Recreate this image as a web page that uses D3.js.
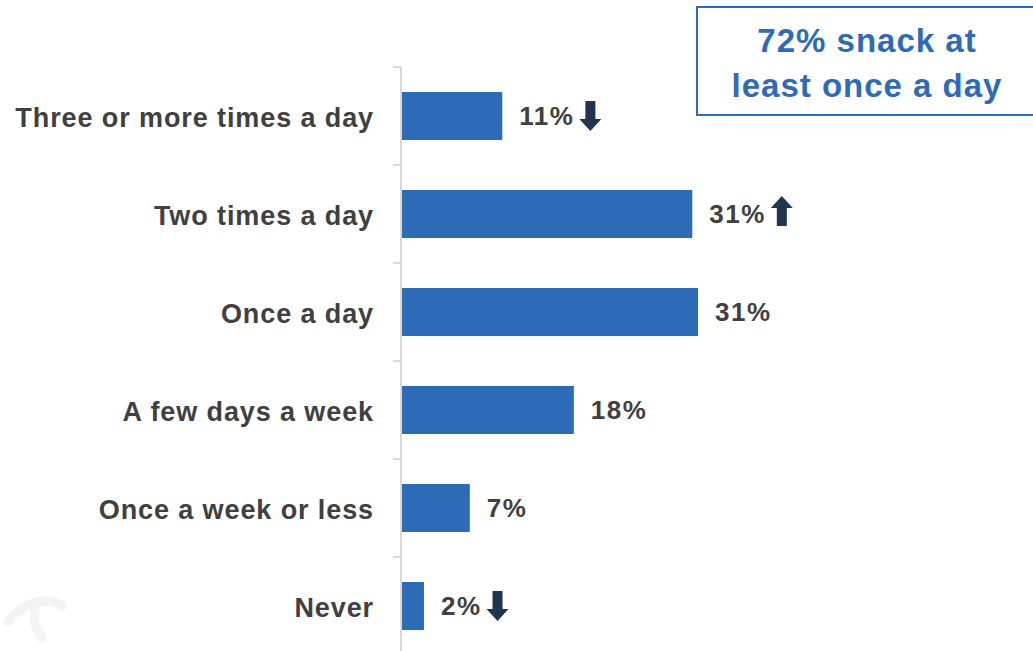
<!DOCTYPE html>
<html><head><meta charset="utf-8">
<script src="https://cdn.jsdelivr.net/npm/d3@7"></script>
<style>body{margin:0;background:#fff}svg{display:block}</style>
</head><body>
<svg id="c" width="1033" height="651"></svg>
<script>
const categories = ["Three or more times a day","Two times a day","Once a day","A few days a week","Once a week or less","Never"];
const values = [10.5, 30.4, 31.0, 18.0, 7.1, 2.3];
const valueLabels = ["11%","31%","31%","18%","7%","2%"];
const trends = ["down","up","","","","down"];
const calloutLines = ["72% snack at","least once a day"];

const svg = d3.select("#c");
const font = "'Liberation Sans', Arial, sans-serif";
const x = d3.scaleLinear().domain([0, 31]).range([402, 698]);
const y = d3.scaleBand().domain(categories).range([67, 655]).paddingInner(0.51).paddingOuter(0.255);

// watermark
svg.append("path").attr("d","M8,622 C22,602 48,596 62,606 M38,601 C32,614 34,628 42,638")
  .attr("fill","none").attr("stroke","#f3f3f3").attr("stroke-width",9).attr("stroke-linecap","round");

// axis
const band = y.step();
const ax = svg.append("g").attr("transform","translate(401,0)");
ax.append("line").attr("x1",0).attr("x2",0).attr("y1",67).attr("y2",651).attr("stroke","#d9d9d9").attr("stroke-width",2);
d3.range(categories.length + 1).forEach(i=>{
  const ty = 67 + i*band;
  ax.append("line").attr("x1",-8).attr("x2",0).attr("y1",ty).attr("y2",ty).attr("stroke","#d9d9d9").attr("stroke-width",2);
});

// bars
svg.selectAll("rect.bar").data(categories).join("rect").attr("class","bar")
  .attr("x", x(0)).attr("y", d=>y(d)).attr("height", y.bandwidth())
  .attr("width", (d,i)=>x(values[i])-x(0)).attr("fill","#2e6bb6");

// category labels
svg.selectAll("text.cat").data(categories).join("text").attr("class","cat")
  .attr("x",374).attr("y",d=>y(d)+y.bandwidth()/2).attr("dy","0.4em")
  .attr("text-anchor","end").attr("font-family",font).attr("font-weight","bold")
  .attr("font-size",27).attr("letter-spacing","0.9px").attr("fill","#404040").text(d=>d);

// value labels
const vl = svg.selectAll("text.val").data(categories).join("text").attr("class","val")
  .attr("x",(d,i)=>x(values[i])+17).attr("y",d=>y(d)+y.bandwidth()/2).attr("dy","0.36em")
  .attr("font-family",font).attr("font-weight","bold").attr("font-size",26).attr("letter-spacing","1.5px").attr("fill","#404040")
  .text((d,i)=>valueLabels[i]);

// trend arrows
vl.each(function(d,i){
  if(!trends[i]) return;
  const bb = this.getBBox();
  const ax0 = bb.x + bb.width + 5, cy = y(d)+y.bandwidth()/2;
  const w = 22, h = 30, sw = 10, head = 12;
  let pts;
  if(trends[i]==="down"){
    const t = cy - h/2, b = cy + h/2;
    pts = [[ax0+(w-sw)/2,t],[ax0+(w+sw)/2,t],[ax0+(w+sw)/2,b-head],[ax0+w,b-head],[ax0+w/2,b],[ax0,b-head],[ax0+(w-sw)/2,b-head]];
  } else {
    const t = cy - h/2 - 3, b = cy + h/2 - 3;
    pts = [[ax0+(w-sw)/2,b],[ax0+(w+sw)/2,b],[ax0+(w+sw)/2,t+head],[ax0+w,t+head],[ax0+w/2,t],[ax0,t+head],[ax0+(w-sw)/2,t+head]];
  }
  svg.append("polygon").attr("points",pts.map(p=>p.join(",")).join(" ")).attr("fill","#1f3550");
});

// callout box
svg.append("rect").attr("x",697).attr("y",7).attr("width",340).attr("height",108)
  .attr("fill","#fff").attr("stroke","#2e6bb6").attr("stroke-width",2);
svg.selectAll("text.call").data(calloutLines).join("text").attr("class","call")
  .attr("x",867).attr("y",(d,i)=>52+i*45).attr("text-anchor","middle")
  .attr("font-family",font).attr("font-weight","bold").attr("font-size",33).attr("letter-spacing","1px").attr("fill","#2e6bb6")
  .text(d=>d);
</script>
</body></html>
